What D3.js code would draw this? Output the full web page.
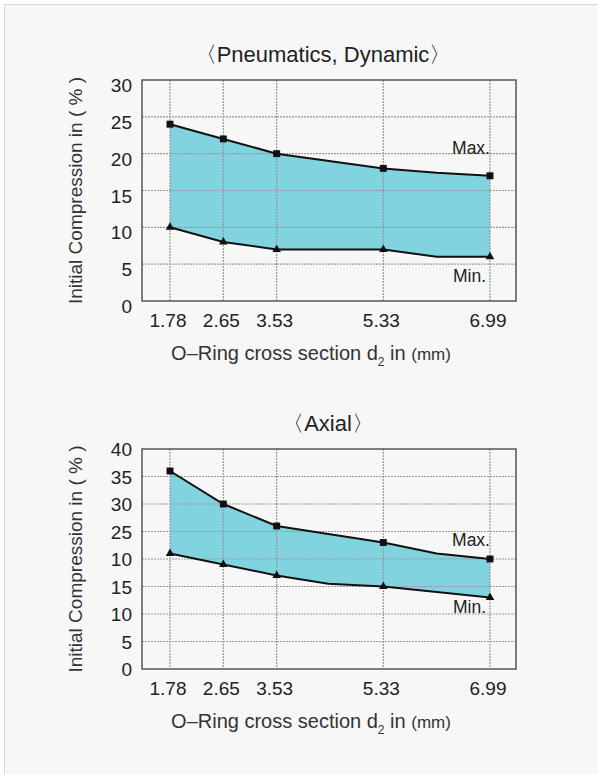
<!DOCTYPE html>
<html>
<head>
<meta charset="utf-8">
<script src="https://cdn.jsdelivr.net/npm/d3@7"></script>
<style>
  body { margin: 0; background: #fff; }
  svg { display: block; font-family: "Liberation Sans", Arial, sans-serif; }
</style>
</head>
<body>
<svg id="chart" width="598" height="774"></svg>
<script>
// O-ring sizes shown on the x axis (mm)
var sizes = [1.78, 2.65, 3.53, 5.33, 6.99];
var sizeLabels = ["1.78", "2.65", "3.53", "5.33", "6.99"];
// slot where each size sits on the axis (the axis is not to scale)
var sizeSlots = [0, 1, 2, 4, 6];

// Pneumatics, dynamic
var pneuMaxX = [1.78, 2.65, 3.53, 5.33, 6.16, 6.99];
var pneuMax = [24, 22, 20, 18, 17.4, 17];
var pneuMinX = [1.78, 2.65, 3.53, 5.33, 6.16, 6.99];
var pneuMin = [10, 8, 7, 7, 6, 6];
var pneuTicks = [0, 5, 10, 15, 20, 25, 30];
var pneuTickLabels = ["0", "5", "10", "15", "20", "25", "30"];

// Axial
var axialMaxX = [1.78, 2.65, 3.53, 5.33, 6.16, 6.99];
var axialMax = [36, 30, 26, 23, 21, 20];
var axialMinX = [1.78, 2.65, 3.53, 4.4, 5.33, 6.99];
var axialMin = [21, 19, 17, 15.5, 15, 13];
var axialTicks = [0, 5, 10, 15, 20, 25, 30, 35, 40];
var axialTickLabels = ["0", "5", "10", "15", "10", "25", "30", "35", "40"];

var svg = d3.select("#chart");

// panel
svg.append("rect")
    .attr("x", 4.5).attr("y", 4.5)
    .attr("width", 600).attr("height", 780)
    .attr("fill", "#f7f7f7")
    .attr("stroke", "#d8d8d8");

function drawChart(cfg) {
    var left = 142, right = 516, top = cfg.top, bottom = cfg.bottom;
    var padL = 28, padR = 26;
    var unit = (right - left - padL - padR) / 6;

    var x = d3.scaleLinear()
        .domain(sizes)
        .range(sizeSlots.map(function (s) { return left + padL + s * unit; }));
    var y = d3.scaleLinear()
        .domain([0, cfg.yMax])
        .range([bottom, top]);

    var g = svg.append("g");

    // title
    g.append("text")
        .attr("x", cfg.titleX).attr("y", cfg.titleY)
        .attr("text-anchor", "middle")
        .attr("font-size", "22px")
        .attr("fill", "#222")
        .text(cfg.title);

    var maxPts = cfg.maxX.map(function (d, i) { return [d, cfg.max[i]]; });
    var minPts = cfg.minX.map(function (d, i) { return [d, cfg.min[i]]; });
    var line = d3.line()
        .x(function (d) { return x(d[0]); })
        .y(function (d) { return y(d[1]); });

    // band between max and min
    g.append("path")
        .attr("d", line(maxPts.concat(minPts.slice().reverse())) + "Z")
        .attr("fill", "#82d3e0");

    // grid (shows through the band)
    g.append("g").selectAll("line")
        .data(cfg.ticks.slice(1, -1))
        .join("line")
        .attr("x1", left).attr("x2", right)
        .attr("y1", function (d) { return y(d); })
        .attr("y2", function (d) { return y(d); })
        .attr("stroke", "#999")
        .attr("stroke-width", 1.2)
        .attr("stroke-dasharray", "2,1");
    g.append("g").selectAll("line")
        .data(sizes)
        .join("line")
        .attr("x1", function (d) { return x(d); })
        .attr("x2", function (d) { return x(d); })
        .attr("y1", top).attr("y2", bottom)
        .attr("stroke", "#999")
        .attr("stroke-width", 1.2)
        .attr("stroke-dasharray", "2,1");

    // frame
    g.append("rect")
        .attr("x", left).attr("y", top)
        .attr("width", right - left).attr("height", bottom - top)
        .attr("fill", "none")
        .attr("stroke", "#555")
        .attr("stroke-width", 1.5);

    g.append("path").attr("d", line(maxPts))
        .attr("fill", "none").attr("stroke", "#111").attr("stroke-width", 2);
    g.append("path").attr("d", line(minPts))
        .attr("fill", "none").attr("stroke", "#111").attr("stroke-width", 2);

    // markers at the listed sizes only
    var onSize = function (d) { return sizes.indexOf(d[0]) >= 0; };
    g.append("g").selectAll("path")
        .data(maxPts.filter(onSize))
        .join("path")
        .attr("transform", function (d) { return "translate(" + x(d[0]) + "," + y(d[1]) + ")"; })
        .attr("d", d3.symbol(d3.symbolSquare, 48))
        .attr("fill", "#111");
    g.append("g").selectAll("path")
        .data(minPts.filter(onSize))
        .join("path")
        .attr("transform", function (d) { return "translate(" + x(d[0]) + "," + y(d[1]) + ")"; })
        .attr("d", d3.symbol(d3.symbolTriangle, 32))
        .attr("fill", "#111");

    // y tick labels
    g.append("g").selectAll("text")
        .data(cfg.ticks)
        .join("text")
        .attr("x", left - 10)
        .attr("y", function (d) { return y(d) + cfg.labelDy; })
        .attr("text-anchor", "end")
        .attr("font-size", "19px")
        .attr("fill", "#222")
        .text(function (d, i) { return cfg.tickLabels[i]; });

    // x tick labels
    g.append("g").selectAll("text")
        .data(sizes)
        .join("text")
        .attr("x", function (d) { return x(d) - 2; })
        .attr("y", bottom + 26)
        .attr("text-anchor", "middle")
        .attr("font-size", "19px")
        .attr("fill", "#222")
        .text(function (d, i) { return sizeLabels[i]; });

    // series labels
    g.append("text")
        .attr("x", 490).attr("y", y(cfg.maxLabelY))
        .attr("text-anchor", "end")
        .attr("font-size", "17.5px")
        .attr("fill", "#222")
        .text("Max.");
    g.append("text")
        .attr("x", 486).attr("y", y(cfg.minLabelY))
        .attr("text-anchor", "end")
        .attr("font-size", "17.5px")
        .attr("fill", "#222")
        .text("Min.");

    // y axis title
    g.append("text")
        .attr("transform", "translate(82," + (top + bottom) / 2 + ") rotate(-90)")
        .attr("text-anchor", "middle")
        .attr("font-size", "19px")
        .attr("fill", "#333")
        .text("Initial Compression in ( % )");

    // x axis title
    var xt = g.append("text")
        .attr("x", 311).attr("y", bottom + 59)
        .attr("text-anchor", "middle")
        .attr("font-size", "20px")
        .attr("fill", "#333");
    xt.append("tspan").text("O\u2013Ring cross section d");
    xt.append("tspan").attr("font-size", "12px").attr("dy", 6).text("2");
    xt.append("tspan").attr("dy", -6).text(" in ");
    xt.append("tspan").attr("font-size", "17px").text("(mm)");
}

drawChart({
    title: "\u3008Pneumatics, Dynamic\u3009", titleX: 323, titleY: 62,
    top: 80, bottom: 301, yMax: 30, labelDy: 12,
    ticks: pneuTicks, tickLabels: pneuTickLabels,
    maxX: pneuMaxX, max: pneuMax, minX: pneuMinX, min: pneuMin,
    maxLabelY: 20, minLabelY: 2.6
});

drawChart({
    title: "\u3008Axial\u3009", titleX: 328, titleY: 431,
    top: 449, bottom: 669, yMax: 40, labelDy: 7,
    ticks: axialTicks, tickLabels: axialTickLabels,
    maxX: axialMaxX, max: axialMax, minX: axialMinX, min: axialMin,
    maxLabelY: 22.4, minLabelY: 10.1
});
</script>
</body>
</html>
